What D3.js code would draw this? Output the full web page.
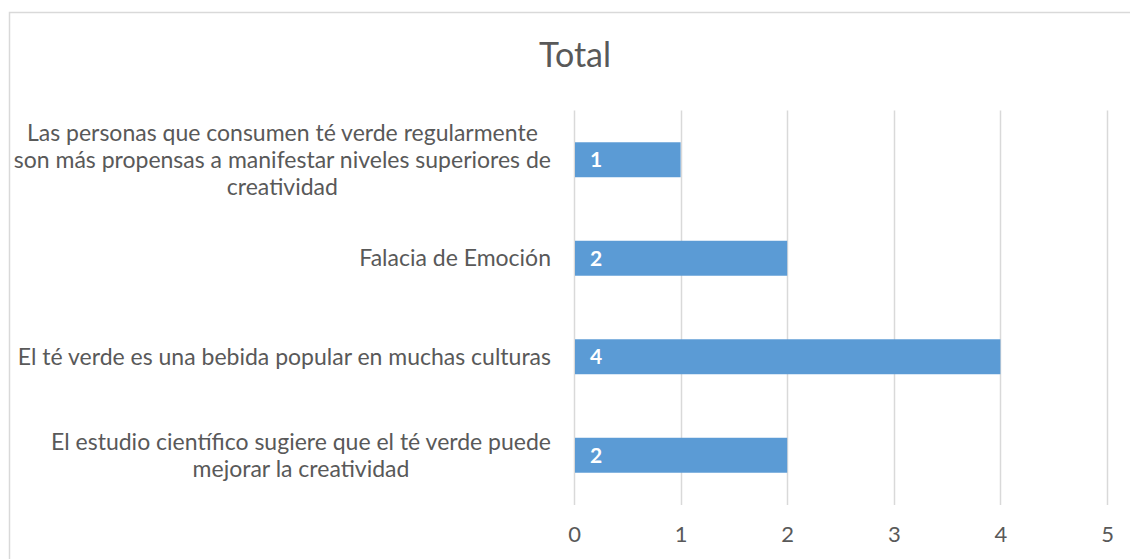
<!DOCTYPE html>
<html>
<head>
<meta charset="utf-8">
<script src="https://cdn.jsdelivr.net/npm/d3@7"></script>
<style>
  body { margin: 0; background: #fff; }
  svg { display: block; font-family: Lato, "Open Sans", sans-serif; }
</style>
</head>
<body>
<div id="chart"></div>
<script>
// categories, top to bottom, with the line breaks shown in the chart
var categories = [
  ["Las personas que consumen té verde regularmente", "son más propensas a manifestar niveles superiores de", "creatividad"],
  ["Falacia de Emoción"],
  ["El té verde es una bebida popular en muchas culturas"],
  ["El estudio científico sugiere que el té verde puede", "mejorar la creatividad"]
]
var values = [1, 2, 4, 2]
var ticks = [0, 1, 2, 3, 4, 5]
var title = "Total"

var W = 1130, H = 559
var svg = d3.select("#chart").append("svg").attr("width", W).attr("height", H)

// chart frame
svg.append("rect").attr("x", 9.5).attr("y", 12.5).attr("width", W).attr("height", H)
  .attr("fill", "#fff").attr("stroke", "#d9d9d9").attr("stroke-width", 1.5)

var x = d3.scaleLinear().domain([0, 5]).range([574, 1107])
var y = d3.scaleBand().domain(d3.range(categories.length)).range([110.5, 504.5]).paddingInner(0.645).paddingOuter(0.3225)

svg.append("text").attr("x", 575).attr("y", 67).attr("text-anchor", "middle")
  .attr("fill", "#595959").style("font-size", "34px").text(title)

// gridlines
svg.append("g").selectAll("line").data(ticks).enter().append("line")
  .attr("x1", function(d) { return Math.round(x(d)) + 0.5 }).attr("x2", function(d) { return Math.round(x(d)) + 0.5 })
  .attr("y1", 110.5).attr("y2", 505).attr("stroke", "#d9d9d9").attr("stroke-width", 1.5)

// bottom axis labels
var xAxis = svg.append("g").attr("transform", "translate(0,505)")
  .call(d3.axisBottom(x).tickValues(ticks).tickSize(0).tickPadding(21).tickFormat(d3.format("d")))
xAxis.select(".domain").remove()
xAxis.selectAll("text").attr("fill", "#595959").style("font-size", "22px").style("font-family", "Lato, 'Open Sans', sans-serif")

// bars
svg.append("g").selectAll("rect").data(values).enter().append("rect")
  .attr("x", x(0) + 1).attr("y", function(d, i) { return y(i) })
  .attr("width", function(d) { return x(d) - x(0) - 1 }).attr("height", y.bandwidth())
  .attr("fill", "#5b9bd5")

// data labels
svg.append("g").selectAll("text").data(values).enter().append("text")
  .attr("x", x(0) + 16).attr("y", function(d, i) { return y(i) + y.bandwidth() / 2 }).attr("dy", "0.36em")
  .attr("fill", "#fff").style("font-size", "21px").style("font-weight", "bold").text(function(d) { return d })

// category labels: centered lines, block right-aligned to the axis
var lineH = 27
categories.forEach(function(lines, i) {
  var g = svg.append("g")
  var cy = y(i) + y.bandwidth() / 2
  var t = g.selectAll("text").data(lines).enter().append("text")
    .attr("y", function(d, j) { return cy + (j - (lines.length - 1) / 2) * lineH })
    .attr("dy", "0.35em").attr("text-anchor", "middle")
    .attr("fill", "#595959").style("font-size", "23px").text(function(d) { return d })
  var wmax = d3.max(t.nodes(), function(n) { return n.getComputedTextLength() })
  t.attr("x", 551 - wmax / 2)
})
</script>
</body>
</html>
